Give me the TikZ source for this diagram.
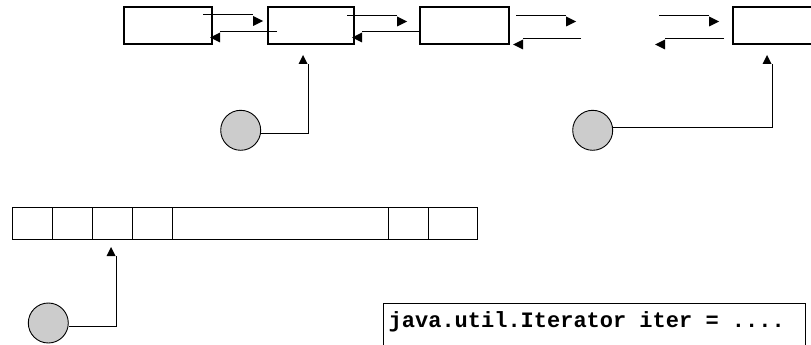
\documentclass[tikz,border=0pt]{standalone}
\usepackage{fontspec}
\newfontfamily\codefont{Liberation Mono}
\usetikzlibrary{calc}

% Filled triangular heads that sit beside the line instead of on it.
% lowR: for lines running to the right (head hangs below the line)
\pgfdeclarearrow{
  name=lowR,
  parameters={lowR},
  setup code={%
    \pgfarrowssettipend{0pt}%
    \pgfarrowssetlineend{-10pt}%
    \pgfarrowssetbackend{-10pt}%
    \pgfarrowshullpoint{0pt}{-6.5pt}%
    \pgfarrowshullpoint{-10pt}{-1.5pt}%
    \pgfarrowshullpoint{-10pt}{-11.5pt}%
  },
  drawing code={%
    \pgfpathmoveto{\pgfpoint{0pt}{-6.5pt}}%
    \pgfpathlineto{\pgfpoint{-10pt}{-1.5pt}}%
    \pgfpathlineto{\pgfpoint{-10pt}{-11.5pt}}%
    \pgfpathclose
    \pgfusepathqfill
  }
}
% lowL: for lines running to the left (head hangs below the line)
\pgfdeclarearrow{
  name=lowL,
  parameters={lowL},
  setup code={%
    \pgfarrowssettipend{0pt}%
    \pgfarrowssetlineend{-10pt}%
    \pgfarrowssetbackend{-10pt}%
    \pgfarrowshullpoint{0pt}{6.5pt}%
    \pgfarrowshullpoint{-10pt}{1.5pt}%
    \pgfarrowshullpoint{-10pt}{11.5pt}%
  },
  drawing code={%
    \pgfpathmoveto{\pgfpoint{0pt}{6.5pt}}%
    \pgfpathlineto{\pgfpoint{-10pt}{1.5pt}}%
    \pgfpathlineto{\pgfpoint{-10pt}{11.5pt}}%
    \pgfpathclose
    \pgfusepathqfill
  }
}
% sideP: for upward pointer lines (head sits to the left of the line)
\pgfdeclarearrow{
  name=sideP,
  parameters={sideP},
  setup code={%
    \pgfarrowssettipend{0pt}%
    \pgfarrowssetlineend{-9pt}%
    \pgfarrowssetbackend{-9pt}%
    \pgfarrowshullpoint{0pt}{5pt}%
    \pgfarrowshullpoint{-9pt}{0.5pt}%
    \pgfarrowshullpoint{-9pt}{9.5pt}%
  },
  drawing code={%
    \pgfpathmoveto{\pgfpoint{0pt}{5pt}}%
    \pgfpathlineto{\pgfpoint{-9pt}{0.5pt}}%
    \pgfpathlineto{\pgfpoint{-9pt}{9.5pt}}%
    \pgfpathclose
    \pgfusepathqfill
  }
}

% bold monospaced code font
\newcommand\codestyle{\fontsize{22pt}{26pt}\selectfont\codefont\bfseries}

\begin{document}
\begin{tikzpicture}[x=1pt,y=-1pt,
  listbox/.style={draw, line width=2pt, minimum height=37pt, inner sep=0pt, outer sep=0pt},
  slot/.style={draw, line width=0.9pt, minimum height=32pt, inner sep=0pt, outer sep=0pt},
  cursor/.style={circle, draw, line width=0.9pt, fill=black!20, minimum size=40pt, inner sep=0pt},
  linkR/.style={line width=0.9pt, -{lowR}},
  linkL/.style={line width=0.9pt, -{lowL}},
  pointer/.style={line width=0.9pt, -{sideP}},
  codebox/.style={draw, line width=1.4pt, anchor=north west, inner xsep=5pt, inner ysep=0pt,
    text width=412pt, align=left, text height=24pt, text depth=33pt,
    font=\codestyle}]
\useasboundingbox (0,0) rectangle (811,345);
\clip (0,0) rectangle (811,345);

% linked list nodes
\node[listbox, minimum width=88pt] (b1) at (168,25.5) {};
\node[listbox, minimum width=86pt] (b2) at (311,25.5) {};
\node[listbox, minimum width=89pt] (b3) at (464.5,25.5) {};
\node[listbox, minimum width=88pt] (b4) at (777,25.5) {};

% loose ends of the list links
\coordinate (g1u) at (576,15);
\coordinate (g1l) at (581,38);
\coordinate (g2u) at (659,15);
\coordinate (g2l) at (655,38);

% forward and backward links
\draw[linkR] ($(b1.north east)+(-9,7.5)$) -- ($(b2.north west)+(-5,7.5)$);
\draw[linkL] ($(b2.north west)+(9,24)$) -- ($(b1.north east)+(-2,24)$);
\draw[linkR] ($(b2.north east)+(-7,8)$) -- ($(b3.north west)+(-13,8)$);
\draw[linkL] ($(b3.north west)+(-1,24)$) -- ($(b2.north east)+(-2,24)$);
\draw[linkR] ($(b3.north east)+(7,8)$) -- (g1u);
\draw[linkL] (g1l) -- ($(b3.north east)+(4,31)$);
\draw[linkR] (g2u) -- ($(b4.north west)+(-14,8)$);
\draw[linkL] ($(b4.north west)+(-9,31)$) -- (g2l);

% iterators over the list
\node[cursor] (c1) at (240.7,130.3) {};
\node[cursor] (c2) at (592.7,130.3) {};
\draw[pointer] ($(c1.east)+(0,2.7)$) -| ($(b2.south)+(-3,11)$);
\draw[pointer] ($(c2.east)+(0,-3.3)$) -| ($(b4.south)+(-5,11)$);

% array slots
\node[slot, minimum width=40pt] (a1) at (32,223) {};
\node[slot, minimum width=40pt] (a2) at (72,223) {};
\node[slot, minimum width=40pt] (a3) at (112,223) {};
\node[slot, minimum width=40pt] (a4) at (152,223) {};
\node[slot, minimum width=216pt] (a5) at (280,223) {};
\node[slot, minimum width=40pt] (a6) at (408,223) {};
\node[slot, minimum width=49pt] (a7) at (452.5,223) {};

% iterator over the array
\node[cursor] (c3) at (48.3,323) {};
\draw[pointer] ($(c3.east)+(0,3)$) -| ($(a3.south)+(4,8)$);

% code line (monospaced, so every space is one full character wide)
\node[codebox] (code) at (383,303)
  {\spaceskip=13.2pt\xspaceskip=13.2pt java.util.Iterator iter = ....};
\end{tikzpicture}
\end{document}
